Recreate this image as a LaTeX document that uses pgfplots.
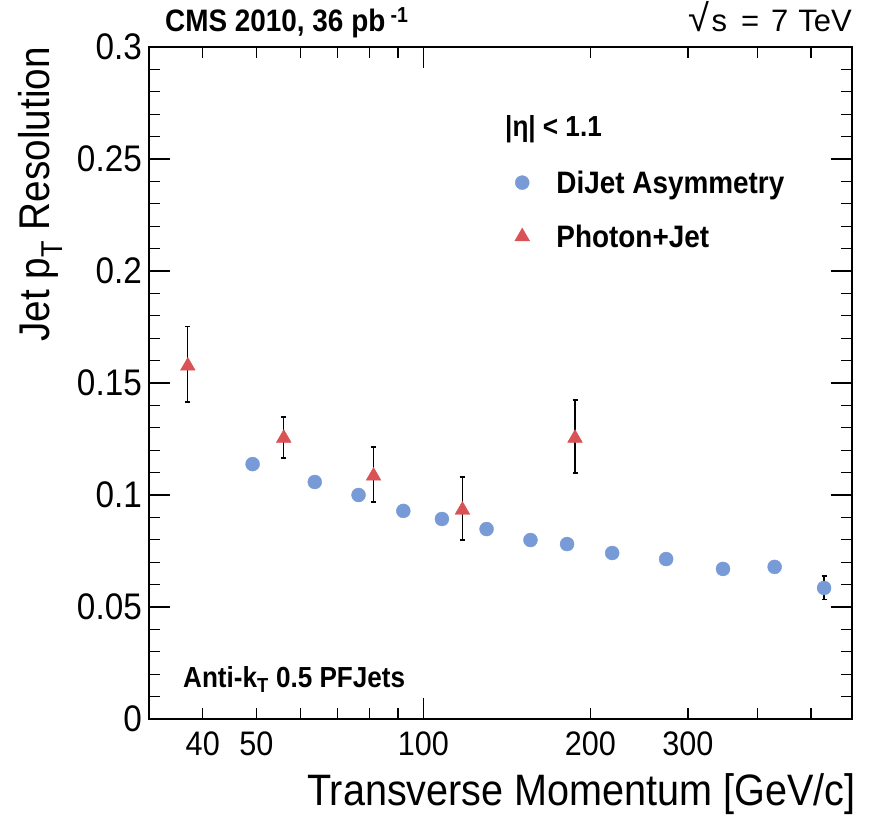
\documentclass[border=0pt]{standalone}
\usepackage{fontspec}
\setmainfont{Liberation Sans}[FakeStretch=0.9]
\newfontfamily\plainfont{Liberation Sans}
\usepackage{pgfplots}
\usepackage{pgfplotstable}
\pgfplotsset{compat=1.18}
\definecolor{dijetc}{RGB}{120,155,216}
\definecolor{phjetc}{RGB}{216,82,86}
\pgfplotsset{mylegimg/.style={legend image code/.code={\path (0pt,-5pt) (46pt,5pt); \draw[mark repeat=2, mark phase=2, ##1] plot coordinates {(0pt,0pt)(14pt,0pt)(46pt,0pt)};}}}

\pgfplotstableread{
x y e
49.2 0.1138 0.002
63.7 0.1058 0.002
76.4 0.1000 0.002
92 0.0929 0.002
108 0.0893 0.002
130 0.0848 0.002
156 0.0799 0.002
181.6 0.0781 0.002
219 0.0741 0.002
274 0.0714 0.002
347 0.0670 0.002
430 0.0679 0.002
528 0.0585 0.0053
}\tabDijet

\pgfplotstableread{
x y ep em
37.6 0.1576 0.0178 0.0161
56 0.1254 0.0094 0.0089
81.3 0.1085 0.0129 0.0116
117.6 0.0933 0.0147 0.0134
187.7 0.1254 0.0170 0.0156
}\tabPhjet

\begin{document}
\begin{tikzpicture}
\useasboundingbox (-149pt,-95pt) rectangle (720pt,719pt);
\begin{axis}[name=ax, at={(0,0)}, anchor=south west, scale only axis,
  width=703pt, height=672pt,
  xmode=log, xmin=32, xmax=593, ymin=0, ymax=0.3,
  axis line style={line width=1.6pt},
  tick align=inside, tick pos=both,
  every tick/.style={black, line width=1.3pt},
  major tick length=11pt, minor tick length=11pt,
  xtick={40,50,100,200,300}, xticklabels={40,50,100,200,300},
  minor xtick={60,70,80,90,400,500},
  ytick={0,0.05,0.1,0.15,0.2,0.25,0.3},
  yticklabels={0,0.05,0.1,0.15,0.2,0.25,0.3},
  minor y tick num=4,
  /pgf/number format/assume math mode=true,
  xticklabel style={font=\fontsize{34}{36}\selectfont, inner sep=0pt, yshift=-13pt},
  yticklabel style={font=\fontsize{37}{40}\selectfont, inner sep=0pt, xshift=-7pt},
  legend style={at={(0.5107,0.819)}, anchor=north west, draw=none, fill=none,
    inner sep=0pt, outer sep=0pt, font=\bfseries\fontsize{31}{33}\selectfont, row sep=26pt},
  legend cell align=left,
]
\addplot[draw=none, mark=none, forget plot,
  error bars/.cd, y dir=both, y explicit,
  error bar style={draw=black, solid, line width=1.2pt},
  error mark options={draw=black, line width=1.2pt, mark size=2.5pt, rotate=90}]
  table[x=x, y=y, y error=e] {\tabDijet};
\addplot[draw=none, mark=none, forget plot,
  error bars/.cd, y dir=both, y explicit,
  error bar style={draw=black, solid, line width=1.2pt},
  error mark options={draw=black, line width=1.2pt, mark size=2.5pt, rotate=90}]
  table[x=x, y=y, y error plus=ep, y error minus=em] {\tabPhjet};
\addplot[only marks, mark=*, mark size=7pt, color=dijetc,
  mark options={draw=dijetc, fill=dijetc}, mylegimg]
  table[x=x, y=y] {\tabDijet};
\addlegendentry{DiJet Asymmetry}
\addplot[only marks, mark=triangle*, mark size=8.5pt, color=phjetc,
  mark options={draw=phjetc, fill=phjetc}, mylegimg]
  table[x=x, y=y] {\tabPhjet};
\addlegendentry{Photon+Jet}
\end{axis}
\begin{axis}[at={(0,0)}, anchor=south west, scale only axis,
  width=703pt, height=672pt,
  xmode=log, xmin=32, xmax=593, ymin=0, ymax=0.3,
  axis line style={draw=none},
  tick align=inside, tick pos=both,
  every tick/.style={black, line width=1.3pt},
  major tick length=21pt, minor tick length=0pt,
  xtick={100}, xticklabels={},
  ytick={0,0.05,0.1,0.15,0.2,0.25,0.3}, yticklabels={},
]
\end{axis}
\node[rotate=90, anchor=base east, inner sep=0pt, font=\fontsize{43}{45}\selectfont]
  at ([xshift=-99pt]ax.north west) {Jet p\textsubscript{T} Resolution};
\node[anchor=base east, inner sep=0pt, font=\fontsize{44}{46}\selectfont]
  at ([xshift=4pt, yshift=-86pt]ax.south east) {Transverse Momentum [GeV/c]};
\node[anchor=base west, inner sep=0pt, font=\bfseries\fontsize{31}{33}\selectfont]
  at ([xshift=16pt, yshift=15pt]ax.north west) {CMS 2010, 36 pb\,\textsuperscript{-1}};
\node[anchor=base east, inner sep=0pt, font=\plainfont\fontsize{31}{33}\selectfont]
  at ([yshift=15pt]ax.north east) {{\fontsize{38}{38}\selectfont √}\hspace{2pt}s\hspace{14pt}=\hspace{12pt}7\hspace{10pt}TeV};
\node[anchor=base west, inner sep=0pt, font=\bfseries\fontsize{29}{32}\selectfont]
  at ([xshift=356pt, yshift=-90pt]ax.north west) {|η| < 1.1};
\node[anchor=base west, inner sep=0pt, font=\bfseries\fontsize{29}{32}\selectfont]
  at ([xshift=34pt, yshift=32pt]ax.south west) {Anti-k\textsubscript{T} 0.5 PFJets};
\end{tikzpicture}
\end{document}
